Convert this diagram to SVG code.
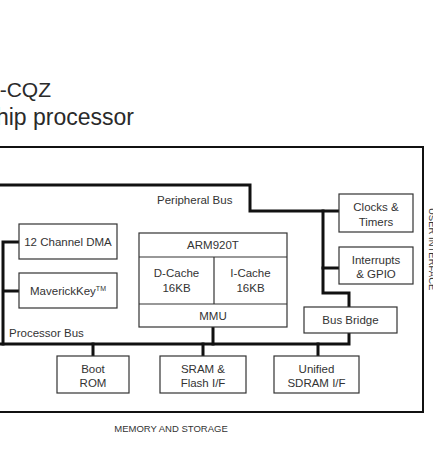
<svg xmlns="http://www.w3.org/2000/svg" width="442" height="468" viewBox="0 0 442 468">
<style>
  text { font-family: "Liberation Sans", Arial, sans-serif; fill: #333; }
  .t { font-size: 11.5px; text-anchor: middle; }
  .lbl { font-size: 11.5px; }
  .title { text-anchor: end; fill: #2a2a2a; }
  .cap { font-size: 9.5px; }
  .box { fill: #fff; stroke: #333; stroke-width: 1.2; }
  .bus { fill: none; stroke: #111; stroke-width: 3; stroke-linejoin: miter; stroke-linecap: square; }
  .frame { fill: none; stroke: #111; stroke-width: 2; }
</style>
<defs>
  <clipPath id="edgeclip"><rect x="420" y="0" width="13" height="468"/></clipPath>
</defs>
<rect x="0" y="0" width="442" height="468" fill="#fff"/>

<g id="title">
  <text class="title" x="51" y="97" font-size="21">-CQZ</text>
  <text class="title" x="134" y="125" font-size="23">hip processor</text>
</g>

<rect class="frame" x="-10" y="147" width="433" height="265"/>

<g id="connectors">
  <path class="bus" d="M -5 185 H 250 V 211 H 338"/>
  <path class="bus" d="M 323 211 V 293 H 349 V 306"/>
  <path class="bus" d="M 323 268 H 338"/>
  <path class="bus" d="M 3 242 H 18 M 3 291 H 18 M 3 242 V 344"/>
  <path class="bus" d="M -5 344 H 349 V 334"/>
  <path class="bus" d="M 93 344 V 355 M 203 344 V 355 M 318 344 V 355 M 213 328 V 344"/>
</g>

<g id="peripheral-bus-label"><text class="lbl" x="157" y="204">Peripheral Bus</text></g>
<g id="processor-bus-label"><text class="lbl" x="9" y="337">Processor Bus</text></g>

<g id="dma">
  <rect class="box" x="19" y="224" width="98" height="35"/>
  <text class="t" x="68" y="246">12 Channel DMA</text>
</g>
<g id="maverickkey">
  <rect class="box" x="19" y="273" width="98" height="35"/>
  <text class="t" x="68" y="295">MaverickKey<tspan font-size="7" dy="-4">TM</tspan></text>
</g>
<g id="arm920t">
  <rect class="box" x="139" y="233" width="148" height="94"/>
  <line x1="139" y1="257" x2="287" y2="257" stroke="#333" stroke-width="1.2"/>
  <line x1="139" y1="304" x2="287" y2="304" stroke="#333" stroke-width="1.2"/>
  <line x1="214" y1="257" x2="214" y2="304" stroke="#333" stroke-width="1.2"/>
  <text class="t" x="213" y="249">ARM920T</text>
  <text class="t" x="176.5" y="277">D-Cache</text>
  <text class="t" x="176.5" y="292">16KB</text>
  <text class="t" x="250.5" y="277">I-Cache</text>
  <text class="t" x="250.5" y="292">16KB</text>
  <text class="t" x="213" y="320">MMU</text>
</g>
<g id="clocks">
  <rect class="box" x="339" y="194" width="74" height="38"/>
  <text class="t" x="376" y="211">Clocks &amp;</text>
  <text class="t" x="376" y="226">Timers</text>
</g>
<g id="interrupts">
  <rect class="box" x="339" y="247" width="74" height="37"/>
  <text class="t" x="376" y="264">Interrupts</text>
  <text class="t" x="376" y="278">&amp; GPIO</text>
</g>
<g id="bus-bridge">
  <rect class="box" x="304" y="307" width="93" height="26"/>
  <text class="t" x="350.5" y="324">Bus Bridge</text>
</g>
<g id="boot-rom">
  <rect class="box" x="57" y="356" width="72" height="37"/>
  <text class="t" x="93" y="373">Boot</text>
  <text class="t" x="93" y="387">ROM</text>
</g>
<g id="sram">
  <rect class="box" x="160" y="356" width="86" height="37"/>
  <text class="t" x="203" y="373">SRAM &amp;</text>
  <text class="t" x="203" y="387">Flash I/F</text>
</g>
<g id="sdram">
  <rect class="box" x="274" y="356" width="85" height="37"/>
  <text class="t" x="316.5" y="373">Unified</text>
  <text class="t" x="316.5" y="387">SDRAM I/F</text>
</g>

<g id="memory-label"><text class="cap" x="171" y="432" text-anchor="middle">MEMORY AND STORAGE</text></g>
<g id="user-interface-label" clip-path="url(#edgeclip)">
  <text class="cap" transform="translate(429 208) rotate(90)" fill="#777">USER INTERFACE</text>
</g>
</svg>
